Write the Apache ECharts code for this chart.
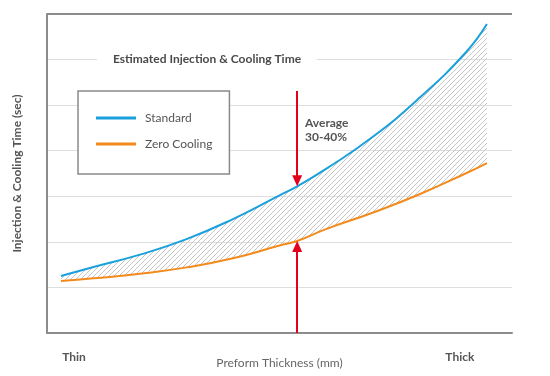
<!DOCTYPE html>
<html>
<head>
<meta charset="utf-8">
<script src="https://cdn.jsdelivr.net/npm/echarts@6/dist/echarts.min.js"></script>
<style>
  html, body { margin: 0; padding: 0; background: #fff; }
  #chart { width: 550px; height: 376px; }
</style>
</head>
<body>
<div id="chart"></div>
<script>
// preform thickness, on a 0..100 scale (thin -> thick)
var thickness = [3, 10, 20, 30, 40, 50, 53.8, 60, 70, 80, 90, 94.6];
var standard = [1.25, 1.45, 1.72, 2.06, 2.50, 3.02, 3.22, 3.60, 4.30, 5.15, 6.15, 6.78];
var zeroCooling = [1.14, 1.20, 1.30, 1.44, 1.64, 1.92, 2.02, 2.28, 2.64, 3.04, 3.50, 3.73];
var xLabels = ['Thin', 'Thick'];
var xLabelValues = [5.8, 88.8];
var arrowIndex = 6;      // thickness where the "average" arrows sit
var arrowTop = 5.31;
var frameTop = 7;

var fontName = 'Lato';
var axisColor = '#8c8c8c';
var gridColor = '#dedede';
var headOffset = 0.12;   // half an arrow head, so the tip touches the curve

// y first: with two value axes ECharts stacks the first dimension
function pairs(ys) {
    return thickness.map(function (x, i) { return [ys[i], x]; });
}

// diagonal hatch for the band between the two curves
function hatch() {
    var s = 5;
    var c = document.createElement('canvas');
    c.width = s; c.height = s;
    var ctx = c.getContext('2d');
    ctx.strokeStyle = '#c6c6c6';
    ctx.lineWidth = 1;
    ctx.lineCap = 'square';
    ctx.beginPath();
    ctx.moveTo(0, s); ctx.lineTo(s, 0);
    ctx.stroke();
    return c;
}

var gap = standard.map(function (v, i) { return +(v - zeroCooling[i]).toFixed(3); });
var ax = thickness[arrowIndex];

var option = {
    animation: false,
    title: [
        {
            text: 'Estimated Injection & Cooling Time',
            left: 97,
            top: 53,
            padding: [0, 16],
            backgroundColor: '#fff',
            textStyle: { fontFamily: fontName, fontSize: 12, fontWeight: 'bold', color: '#4a4a4a' }
        },
        {
            text: 'Average\n30-40%',
            left: 305,
            top: 116,
            padding: 0,
            textStyle: { fontFamily: fontName, fontSize: 12, fontWeight: 'bold', color: '#555', lineHeight: 14 }
        }
    ],
    legend: {
        data: [
            { name: 'Standard', icon: 'rect' },
            { name: 'Zero Cooling', icon: 'rect' }
        ],
        orient: 'vertical',
        left: 78,
        top: 91,
        padding: [21, 17, 24, 18],
        itemWidth: 40,
        itemHeight: 3,
        itemGap: 14,
        borderColor: '#8a8a8a',
        borderWidth: 1.5,
        backgroundColor: '#fff',
        textStyle: { fontFamily: fontName, fontSize: 12, color: '#555', padding: [0, 0, 0, 4] }
    },
    grid: { left: 47, right: 38, top: 14, bottom: 43, containLabel: false, outerBoundsMode: 'none' },
    xAxis: {
        type: 'value',
        min: 0,
        max: 100,
        name: 'Preform Thickness (mm)',
        nameLocation: 'middle',
        nameGap: 24,
        nameMoveOverlap: false,
        nameTextStyle: { fontFamily: fontName, fontSize: 12, color: '#666' },
        axisLine: { lineStyle: { color: axisColor, width: 2 } },
        axisTick: { show: false },
        splitLine: { show: false },
        axisLabel: {
            customValues: xLabelValues,
            margin: 18,
            fontFamily: fontName,
            fontSize: 12,
            fontWeight: 'bold',
            color: '#555',
            formatter: function (v) { return xLabels[xLabelValues.indexOf(v)]; }
        }
    },
    yAxis: {
        type: 'value',
        min: 0,
        max: 7,
        interval: 1,
        name: 'Injection & Cooling Time (sec)',
        nameLocation: 'middle',
        nameGap: 24,
        nameRotate: 90,
        nameTextStyle: { fontFamily: fontName, fontSize: 12, fontWeight: 'bold', color: '#555' },
        axisLine: { show: true, lineStyle: { color: axisColor, width: 2 } },
        axisTick: { show: false },
        axisLabel: { show: false },
        // last line (top of the frame) is darker
        splitLine: {
            lineStyle: {
                color: [gridColor, gridColor, gridColor, gridColor, gridColor, gridColor, gridColor, axisColor]
            }
        }
    },
    series: [
        {
            name: 'base',
            type: 'line',
            stack: 'band',
            smooth: true,
            symbol: 'none',
            encode: { x: 1, y: 0 },
            lineStyle: { opacity: 0 },
            data: pairs(zeroCooling),
            z: 1
        },
        {
            name: 'band',
            type: 'line',
            stack: 'band',
            smooth: true,
            symbol: 'none',
            encode: { x: 1, y: 0 },
            lineStyle: { opacity: 0 },
            areaStyle: { color: { image: hatch(), repeat: 'repeat' }, opacity: 1 },
            data: pairs(gap),
            z: 1
        },
        {
            name: 'Standard',
            type: 'line',
            smooth: true,
            symbol: 'none',
            encode: { x: 1, y: 0 },
            color: '#1aa0dd',
            lineStyle: { color: '#1aa0dd', width: 2 },
            data: pairs(standard),
            z: 3,
            // thicker top edge of the frame
            markLine: {
                silent: true,
                symbol: ['none', 'none'],
                label: { show: false },
                lineStyle: { color: axisColor, width: 2, type: 'solid' },
                data: [{ yAxis: frameTop }]
            }
        },
        {
            name: 'Zero Cooling',
            type: 'line',
            smooth: true,
            symbol: 'none',
            encode: { x: 1, y: 0 },
            color: '#f28a1c',
            lineStyle: { color: '#f28a1c', width: 2 },
            data: pairs(zeroCooling),
            z: 3,
            markLine: {
                silent: true,
                symbol: ['none', 'triangle'],
                symbolSize: [10, 11],
                label: { show: false },
                lineStyle: { color: '#e2001a', width: 2, type: 'solid' },
                data: [
                    [{ coord: [ax, arrowTop] }, { coord: [ax, standard[arrowIndex] + headOffset] }],
                    [{ coord: [ax, 0] }, { coord: [ax, zeroCooling[arrowIndex] - headOffset] }]
                ]
            }
        }
    ]
};

var myChart = echarts.init(document.getElementById('chart'));
myChart.setOption(option);
</script>
</body>
</html>
